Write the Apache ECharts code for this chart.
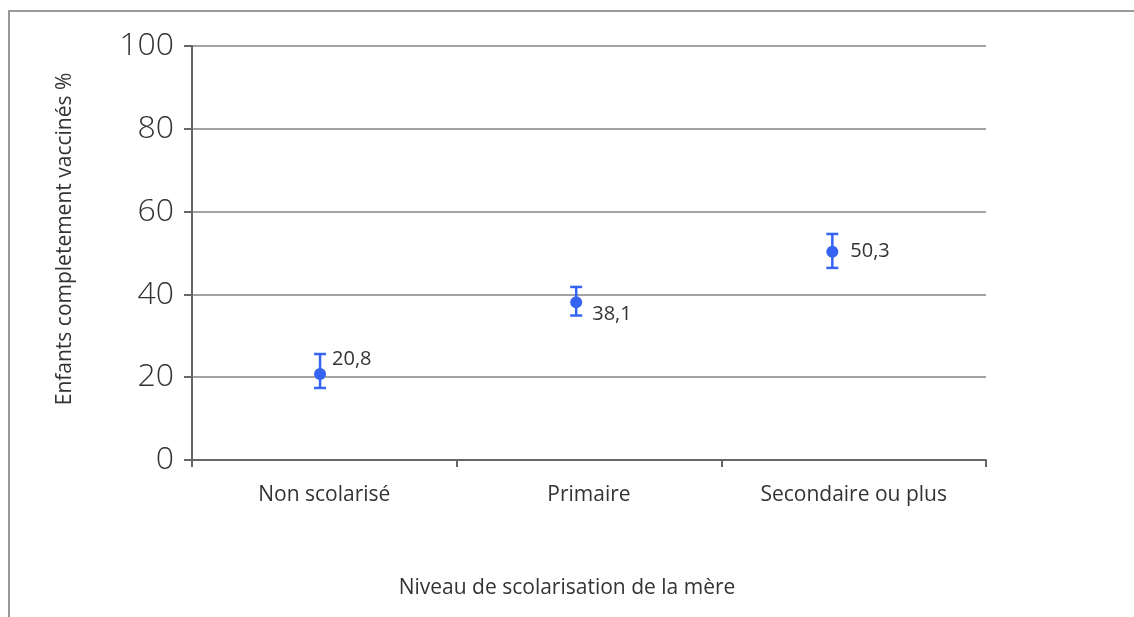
<!DOCTYPE html>
<html>
<head>
<meta charset="utf-8">
<script src="https://cdn.jsdelivr.net/npm/echarts@6/dist/echarts.min.js"></script>
<style>
  html, body { margin: 0; padding: 0; background: #fff; }
  #chart { width: 1134px; height: 617px; }
</style>
</head>
<body>
<div id="chart"></div>
<script>
// données
var categories = ['Non scolarisé', 'Primaire', 'Secondaire ou plus'];
var values = [20.8, 38.1, 50.3];
var lower = [17.4, 34.9, 46.4];
var upper = [25.6, 41.8, 54.6];
var yTicks = [0, 20, 40, 60, 80, 100];

var blue = '#3563f2';
var grey = '#a3a3a3';
var dark = '#666666';
var font = '"Open Sans", Lato, sans-serif';

// position des étiquettes (à droite, au-dessus ou en dessous du point)
var labelOffsets = [[1, -15], [5, 12], [7, 0]];

var pointData = values.map(function (v, i) {
  return {
    value: [i + 1, v],
    label: { offset: labelOffsets[i] }
  };
});
var errData = values.map(function (v, i) {
  return [i + 1, lower[i], upper[i]];
});

var myChart = echarts.init(document.getElementById('chart'));

var option = {
  backgroundColor: '#fff',
  animation: false,
  grid: { left: 192, right: 148, top: 46, bottom: 157 },
  title: {
    text: 'Niveau de scolarisation de la mère',
    left: 'center',
    bottom: 13,
    textStyle: { fontFamily: font, fontSize: 21, fontWeight: 'normal', color: '#333' }
  },
  xAxis: [{
    type: 'category',
    data: categories,
    boundaryGap: true,
    axisLine: { lineStyle: { color: dark, width: 2 } },
    axisTick: { show: true, length: 7, lineStyle: { color: dark, width: 2 } },
    axisLabel: { margin: 25, fontFamily: font, fontSize: 21, color: '#333' },
    splitLine: { show: false }
  }, {
    type: 'value',
    min: 0.5,
    max: 3.6,
    show: false
  }],
  yAxis: {
    type: 'value',
    min: yTicks[0],
    max: yTicks[yTicks.length - 1],
    interval: 20,
    name: 'Enfants completement vaccinés %',
    nameLocation: 'middle',
    nameRotate: 90,
    nameGap: 116,
    nameTextStyle: { fontFamily: font, fontSize: 21, color: '#333', padding: [0, 0, 0, 28] },
    axisLine: { show: true, lineStyle: { color: dark, width: 2 } },
    axisTick: { show: true, length: 8, lineStyle: { color: dark, width: 2 } },
    axisLabel: { margin: 18, fontFamily: font, fontSize: 32, fontWeight: 300, color: '#333' },
    splitLine: { show: true, lineStyle: { color: grey, width: 2 } }
  },
  graphic: [{
    type: 'polyline',
    shape: { points: [[9, 617], [9, 11], [1134, 11]] },
    style: { stroke: '#999', lineWidth: 2, fill: null }
  }],
  series: [{
    type: 'custom',
    xAxisIndex: 1,
    data: errData,
    renderItem: function (params, api) {
      var x = api.value(0);
      var lo = api.coord([x, api.value(1)]);
      var hi = api.coord([x, api.value(2)]);
      var w = 6;
      var st = { stroke: blue, lineWidth: 2.5 };
      return {
        type: 'group',
        children: [
          { type: 'line', shape: { x1: hi[0], y1: hi[1], x2: lo[0], y2: lo[1] }, style: st },
          { type: 'line', shape: { x1: hi[0] - w, y1: hi[1], x2: hi[0] + w, y2: hi[1] }, style: st },
          { type: 'line', shape: { x1: lo[0] - w, y1: lo[1], x2: lo[0] + w, y2: lo[1] }, style: st }
        ]
      };
    },
    z: 3
  }, {
    type: 'scatter',
    xAxisIndex: 1,
    data: pointData,
    symbolSize: 12,
    itemStyle: { color: blue, opacity: 1 },
    label: {
      show: true,
      position: 'right',
      distance: 5,
      formatter: function (p) { return String(p.value[1]).replace('.', ','); },
      fontFamily: font,
      fontSize: 20,
      color: '#333'
    },
    z: 4
  }]
};

myChart.setOption(option);
</script>
</body>
</html>
